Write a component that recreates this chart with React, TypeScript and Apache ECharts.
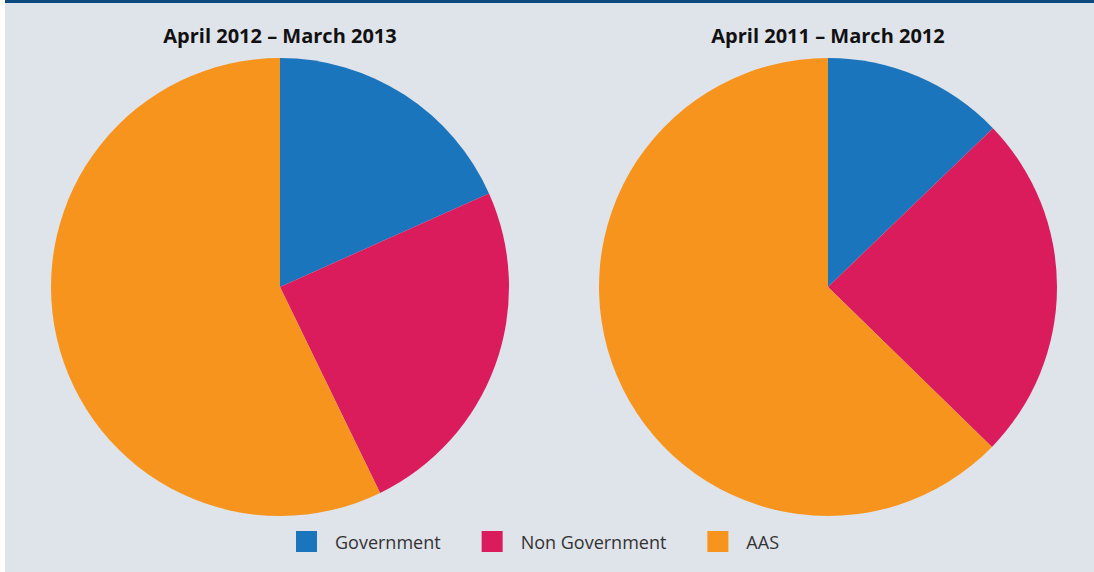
import React, { useEffect, useRef } from "react";
import * as echarts from "echarts";

const categories = ["Government", "Non Government", "AAS"];
const titles = ["April 2012 – March 2013", "April 2011 – March 2012"];
const values2012 = [18.3, 24.5, 57.2];
const values2011 = [12.8, 24.5, 62.7];
const colors = ["#1b75bc", "#da1c5c", "#f7941d"];

export default function App() {
  const ref = useRef<HTMLDivElement>(null);
  useEffect(() => {
    const chart = echarts.init(ref.current!, null, { renderer: "svg" });
    const mk = (vals: number[]) => categories.map((c, i) => ({ name: c, value: vals[i] }));
    chart.setOption({
      animation: false,
      backgroundColor: "#ffffff",
      color: colors,
      graphic: [
        { type: "rect", shape: { x: 5, y: 0, width: 1089, height: 572 }, style: { fill: "#dfe3ea" }, z: -10 },
        { type: "rect", shape: { x: 5, y: 0, width: 1089, height: 3 }, style: { fill: "#0b4a7c" }, z: -9 },
      ],
      title: [
        { text: titles[0], left: 280, top: 25, padding: 0, textAlign: "center", textStyle: { fontFamily: "Open Sans", fontWeight: "bold", fontSize: 20, color: "#111" } },
        { text: titles[1], left: 828, top: 25, padding: 0, textAlign: "center", textStyle: { fontFamily: "Open Sans", fontWeight: "bold", fontSize: 20, color: "#111" } },
      ],
      legend: {
        data: categories,
        left: 296,
        top: 531,
        padding: 0,
        itemWidth: 21,
        itemHeight: 21,
        itemGap: 41,
        icon: "rect",
        textStyle: { fontFamily: "Open Sans", fontSize: 18, color: "#333", padding: [0, 0, 0, 13] },
      },
      series: [
        {
          type: "pie",
          center: [280, 287],
          radius: 229,
          startAngle: 90,
          clockwise: true,
          label: { show: false },
          labelLine: { show: false },
          emphasis: { disabled: true },
          data: mk(values2012),
        },
        {
          type: "pie",
          center: [828, 287],
          radius: 229,
          startAngle: 90,
          clockwise: true,
          label: { show: false },
          labelLine: { show: false },
          emphasis: { disabled: true },
          data: mk(values2011),
        },
      ],
    });
    return () => chart.dispose();
  }, []);
  return <div ref={ref} style={{ position: "fixed", left: 0, top: 0, width: 1094, height: 572 }} />;
}
